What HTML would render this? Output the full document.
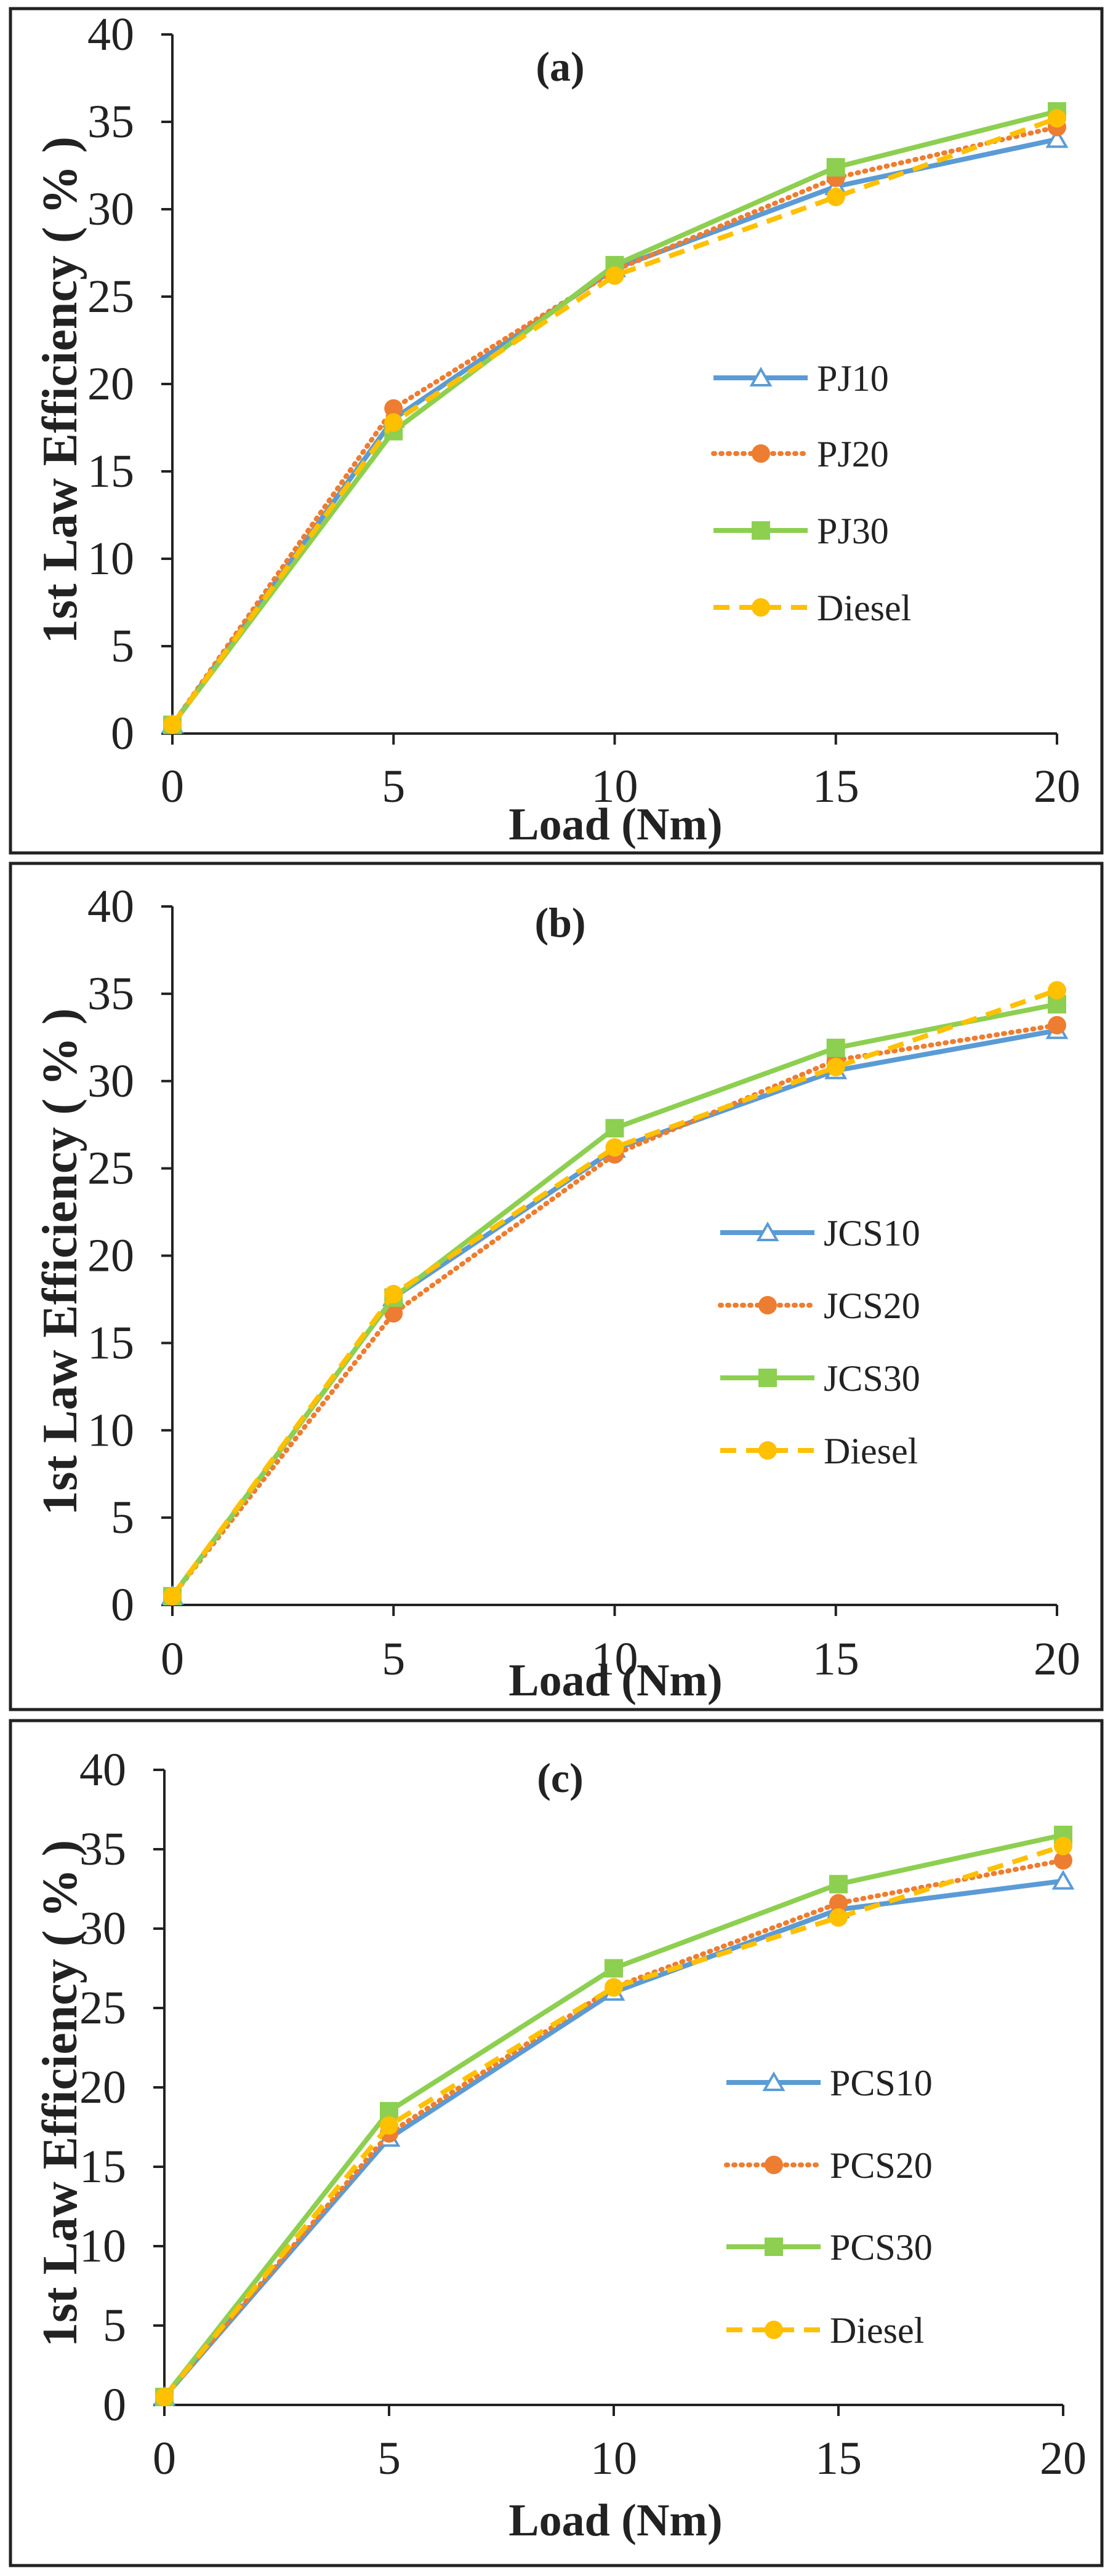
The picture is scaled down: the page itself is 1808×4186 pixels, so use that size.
<!DOCTYPE html>
<html><head><meta charset="utf-8"><style>
html,body{margin:0;padding:0;background:#fff;}
svg{display:block;font-family:"Liberation Serif",serif;}
</style></head><body>
<svg id="fig" width="1808" height="4186" viewBox="0 0 1808 4186" xmlns="http://www.w3.org/2000/svg"></svg>
<script>
const loads = [0, 5, 10, 15, 20];
const yTicks = [0, 5, 10, 15, 20, 25, 30, 35, 40];
const xTicks = [0, 5, 10, 15, 20];
const dieselVals = [0.5, 17.8, 26.2, 30.7, 35.2];
const pj10 = [0.5, 18.0, 26.6, 31.3, 34.0];
const pj20 = [0.5, 18.6, 26.5, 31.8, 34.7];
const pj30 = [0.5, 17.3, 26.8, 32.4, 35.6];
const jcs10 = [0.5, 17.6, 26.1, 30.6, 32.9];
const jcs20 = [0.5, 16.7, 25.8, 31.2, 33.2];
const jcs30 = [0.5, 17.6, 27.3, 31.9, 34.4];
const dieselB = [0.5, 17.8, 26.2, 30.8, 35.2];
const pcs10 = [0.5, 16.8, 26.0, 31.2, 33.0];
const pcs20 = [0.5, 17.1, 26.3, 31.6, 34.3];
const pcs30 = [0.5, 18.5, 27.5, 32.8, 35.9];
const dieselC = [0.5, 17.6, 26.3, 30.7, 35.2];
const namesA = ["PJ10", "PJ20", "PJ30", "Diesel"];
const namesB = ["JCS10", "JCS20", "JCS30", "Diesel"];
const namesC = ["PCS10", "PCS20", "PCS30", "Diesel"];

const NS = "http://www.w3.org/2000/svg";
const svg = document.getElementById("fig");
function mk(tag, attrs, parent, text) {
  const e = document.createElementNS(NS, tag);
  for (const k in attrs) e.setAttribute(k, attrs[k]);
  if (text !== undefined) e.textContent = text;
  (parent || svg).appendChild(e);
  return e;
}
const styles = [
  {c: "#5b9bd5", dash: "", m: "tri"},
  {c: "#ed7d31", dash: "2 10", m: "circ"},
  {c: "#8dcf50", dash: "", m: "sq"},
  {c: "#ffc000", dash: "26 16", m: "circ"}
];
function marker(g, type, x, y, color) {
  let e;
  if (type === "tri") e = mk("polygon", {points: `${x},${y-14} ${x-15},${y+12} ${x+15},${y+12}`, fill: "#fff", stroke: color, "stroke-width": 4}, g);
  else if (type === "circ") e = mk("circle", {cx: x, cy: y, r: 15, fill: color}, g);
  else e = mk("rect", {x: x-15, y: y-15, width: 30, height: 30, fill: color}, g);
  
  
}
function panel(p) {
  const g = mk("g", {});
  
  
  const fr = mk("rect", {x: 17, y: p.top, width: 1773, height: p.bottom - p.top, fill: "none", stroke: "#222", "stroke-width": 5}, g);
  
  
  const X = v => p.x0 + (v - 0) / 20 * (p.x20 - p.x0);
  const Y = v => p.y0 - v / 40 * (p.y0 - p.y40);
  const ya = mk("line", {x1: p.x0, y1: Y(40), x2: p.x0, y2: p.y0 + 18, stroke: "#222", "stroke-width": 4}, g);
  
  
  const xa = mk("line", {x1: p.x0 - 18, y1: p.y0, x2: p.x20, y2: p.y0, stroke: "#222", "stroke-width": 4}, g);
  
  
  yTicks.forEach(t => {
    mk("line", {x1: p.x0 - 18, y1: Y(t), x2: p.x0, y2: Y(t), stroke: "#222", "stroke-width": 4}, g);
    const tl = mk("text", {x: p.x0 - 62, y: Y(t) + 25, "text-anchor": "end", "font-size": 76, fill: "#222"}, g, String(t));
    
    
  });
  xTicks.forEach(t => {
    mk("line", {x1: X(t), y1: p.y0, x2: X(t), y2: p.y0 + 18, stroke: "#222", "stroke-width": 4}, g);
    const tl = mk("text", {x: X(t), y: p.xlab + 26, "text-anchor": "middle", "font-size": 76, fill: "#222"}, g, String(t));
    
    
  });
  const xt = mk("text", {x: 1000, y: p.xtitle + 25, "text-anchor": "middle", "font-size": 74, "font-weight": "bold", fill: "#222"}, g, "Load (Nm)");
  
  
  const ycy = (p.y0 + Y(40)) / 2 + 10;
  const yt = mk("text", {x: 98, y: ycy, "text-anchor": "middle", "font-size": 80, "font-weight": "bold", fill: "#222", transform: `rotate(-90 98 ${ycy}) translate(0 26)`}, g, "1st Law Efficiency ( % )");
  
  
  const lb = mk("text", {x: 910, y: p.label + 24, "text-anchor": "middle", "font-size": 68, "font-weight": "bold", fill: "#222"}, g, "(" + p.id + ")");
  
  
  p.series.forEach((vals, i) => {
    const s = styles[i];
    const sg = mk("g", {}, g);
    
    
    const pts = vals.map((v, j) => X(loads[j]) + "," + Y(v)).join(" ");
    const pl = mk("polyline", {points: pts, fill: "none", stroke: s.c, "stroke-width": 8, "stroke-dasharray": s.dash, "stroke-linecap": s.dash === "2 10" ? "round" : "butt"}, sg);
    
    
    vals.forEach((v, j) => marker(sg, s.m, X(loads[j]), Y(v), s.c));
    const lg = mk("g", {}, g);
    
    
    const ly = p.leg[i];
    mk("line", {x1: p.legX, y1: ly, x2: p.legX + 153, y2: ly, stroke: s.c, "stroke-width": 8, "stroke-dasharray": s.dash, "stroke-linecap": s.dash === "2 10" ? "round" : "butt"}, lg);
    marker(lg, s.m, p.legX + 77, ly, s.c);
    mk("text", {x: p.legX + 168, y: ly + 21, "font-size": 60, fill: "#222"}, lg, p.names[i]);
  });
}
panel({id: "a", top: 14, bottom: 1386, x0: 280, x20: 1717, y0: 1192, y40: 56, xlab: 1277, xtitle: 1339, label: 107,
  legX: 1159, leg: [614, 737, 862, 987], names: namesA, series: [pj10, pj20, pj30, dieselVals]});
panel({id: "b", top: 1403, bottom: 2778, x0: 280, x20: 1717, y0: 2608, y40: 1473, xlab: 2695, xtitle: 2730, label: 1498,
  legX: 1170, leg: [2003, 2121, 2239, 2357], names: namesB, series: [jcs10, jcs20, jcs30, dieselB]});
panel({id: "c", top: 2796, bottom: 4169, x0: 267, x20: 1727, y0: 3908, y40: 2876, xlab: 3994, xtitle: 4095, label: 2888,
  legX: 1180, leg: [3384, 3518, 3651, 3786], names: namesC, series: [pcs10, pcs20, pcs30, dieselC]});
</script>
</body></html>
